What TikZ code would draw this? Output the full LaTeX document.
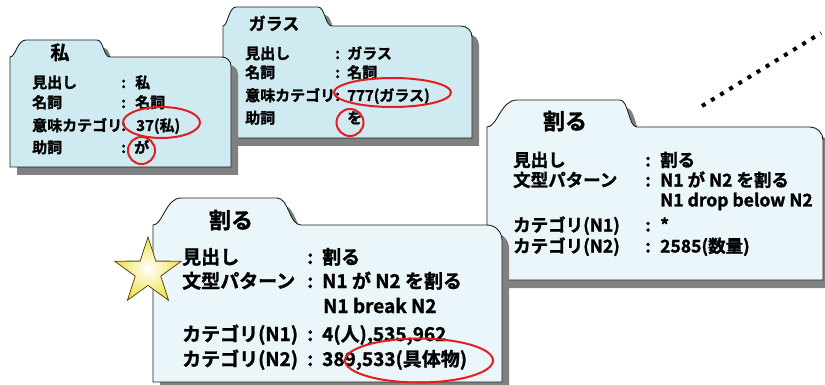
\documentclass[tikz,border=0pt]{standalone}
\usepackage{fontspec}
\usetikzlibrary{shapes.geometric}
\newfontfamily\jp{Noto Sans CJK JP}[UprightFont=*,BoldFont=* Bold,BoldFeatures={FakeBold=1.3}]
\definecolor{fdark}{HTML}{CFEAF0}
\definecolor{flight}{HTML}{EAF6F9}
\definecolor{fshadow}{HTML}{808080}
\definecolor{fline}{HTML}{202020}
\definecolor{ered}{HTML}{E41E20}
\definecolor{starY}{HTML}{EEE24A}
\definecolor{starB}{HTML}{5A4A18}
% folder outline: L, tab top, body top, tab-left width, tab-right x, tab-right width, R, B, corner r
\newcommand\folderpath[9]{(#1,#8) -- (#1,#3)
  .. controls ({#1+0.35*#4},#3) and ({#1+0.45*#4},#2) .. ({#1+#4},#2)
  -- (#5,#2) .. controls ({#5+0.5*#6},#2) and ({#5+0.5*#6},#3) .. ({#5+#6},#3)
  -- ({#7-#9},#3) .. controls ({#7-0.45*#9},#3) and (#7,{#3+0.45*#9}) .. (#7,{#3+#9})
  -- (#7,#8) -- cycle}
\newcommand\drawfolder[9]{%
  \fill[fshadow, shift={(7,8)}] \folderpath{#1}{#2}{#3}{#4}{#5}{#6}{#7}{#8}{#9};
  \filldraw[folderbody] \folderpath{#1}{#2}{#3}{#4}{#5}{#6}{#7}{#8}{#9};}
\tikzset{
  folderbody/.style={draw=fline, line width=0.9pt},
  txt/.style={inner sep=0pt, anchor=base west, text=black},
  ttl/.style={inner sep=0pt, anchor=base, text=black},
  fa/.style={txt, font=\jp\bfseries\fontsize{15}{18}\selectfont},
  fb/.style={txt, font=\jp\bfseries\fontsize{17.5}{21}\selectfont},
  fc/.style={txt, font=\jp\bfseries\fontsize{19}{23}\selectfont},
  redmark/.style={draw=ered, line width=2pt},
  dotline/.style={line width=4pt, dash pattern=on 4pt off 6.7pt, black},
}
\begin{document}
\begin{tikzpicture}[x=1pt,y=-1pt]
\useasboundingbox (0,0) rectangle (825,385);
\clip (0,0) rectangle (825,385);
% dotted line
\coordinate (d1) at (702,106);
\coordinate (d2) at (821,33);
\draw[dotline] (d1) -- (d2);
% folder 2 (glass)
\tikzset{folderbody/.append style={fill=fdark}}
\drawfolder{223}{7}{26}{13}{318}{14}{472}{138}{11}
\node[ttl, font=\jp\bfseries\fontsize{17}{20}\selectfont] (t2) at (274,30) {ガラス};
\node[fa] (b2l1) at (245,59) {見出し};
\node[fa] (b2c1) at (335,59) {:};
\node[fa] (b2v1) at (347,59) {ガラス};
\node[fa] (b2l2) at (245,78) {名詞};
\node[fa] (b2c2) at (335,78) {:};
\node[fa] (b2v2) at (347,78) {名詞};
\node[fa] (b2l3) at (245,101) {意味カテゴリ};
\node[fa] (b2c3) at (335,101) {:};
\node[fa] (b2v3) at (347,101) {777(ガラス)};
\node[fa] (b2l4) at (245,123.5) {助詞};
\node[fa] (b2v4) at (347,123.5) {を};
\draw[redmark] (392.5,92.5) ellipse [x radius=58.5, y radius=14.5];
\draw[redmark] (350,122.5) circle [radius=13.5];
% folder 1 (watashi)
\drawfolder{10}{40}{57}{16}{97}{13}{231}{167}{9}
\node[ttl, font=\jp\bfseries\fontsize{19}{22}\selectfont] (t1) at (60,59.5) {私};
\node[fa] (b1l1) at (32,88) {見出し};
\node[fa] (b1c1) at (121,88) {:};
\node[fa] (b1v1) at (135,88) {私};
\node[fa] (b1l2) at (32,108) {名詞};
\node[fa] (b1c2) at (121,108) {:};
\node[fa] (b1v2) at (135,108) {名詞};
\node[fa] (b1l3) at (32,131) {意味カテゴリ};
\node[fa] (b1c3) at (121,131) {:};
\node[fa] (b1v3) at (136,131) {37(私)};
\node[fa] (b1l4) at (32,153) {助詞};
\node[fa] (b1c4) at (121,153) {:};
\node[fa] (b1v4) at (134,153) {が};
\draw[redmark] (161.5,122.5) ellipse [x radius=38.5, y radius=15.5];
\draw[redmark] (141.5,150.5) circle [radius=13.5];
% folder 3 (waru, drop below)
\tikzset{folderbody/.append style={fill=flight}}
\drawfolder{487}{100}{127}{30}{620}{17}{823}{280}{13}
\node[ttl, font=\jp\bfseries\fontsize{22}{26}\selectfont] (t3) at (565,129.4) {割る};
\node[fb] (b3l1) at (513,166.5) {見出し};
\node[fb] (b3c1) at (645,166.5) {:};
\node[fb] (b3v1) at (660,166.5) {割る};
\node[fb] (b3l2) at (513,186.5) {文型パターン};
\node[fb] (b3c2) at (645,186.5) {:};
\node[fb] (b3v2) at (660,186.5) {N1 が N2 を割る};
\node[fb] (b3v3) at (660,206.5) {N1 drop below N2};
\node[fb] (b3l4) at (513,231.5) {カテゴリ(N1)};
\node[fb] (b3c4) at (645,231.5) {:};
\node[fb] (b3v4) at (660,231.5) {*};
\node[fb] (b3l5) at (513,252.5) {カテゴリ(N2)};
\node[fb] (b3c5) at (645,252.5) {:};
\node[fb] (b3v5) at (660,252.5) {2585(数量)};
% folder 4 (waru, break)
\drawfolder{153}{198}{225}{28}{277}{24}{502}{382}{15}
\node[ttl, font=\jp\bfseries\fontsize{22}{26}\selectfont] (t4) at (231,228.4) {割る};
\node[fc] (b4l1) at (182,264) {見出し};
\node[fc] (b4c1) at (307,264) {:};
\node[fc] (b4v1) at (322,264) {割る};
\node[fc] (b4l2) at (182,288) {文型パターン};
\node[fc] (b4c2) at (307,288) {:};
\node[fc] (b4v2) at (322,288) {N1 が N2 を割る};
\node[fc] (b4v3) at (323,313) {N1 break N2};
\node[fc] (b4l4) at (182,341) {カテゴリ(N1)};
\node[fc] (b4c4) at (307,341) {:};
\node[fc] (b4v4) at (322,341) {4(人),535,962};
\node[fc] (b4l5) at (182,366) {カテゴリ(N2)};
\node[fc] (b4c5) at (307,366) {:};
\node[fc] (b4v5) at (322,366) {389,533(具体物)};
\draw[redmark] (419,360.5) ellipse [x radius=74, y radius=22];
% star
\node[star, star points=5, star point ratio=2.6, minimum size=70pt, inner sep=0pt,
      draw=starB, line width=0.8pt, shading=radial, inner color=white, outer color=starY]
      (star) at (148,272) {};
\end{tikzpicture}
\end{document}
